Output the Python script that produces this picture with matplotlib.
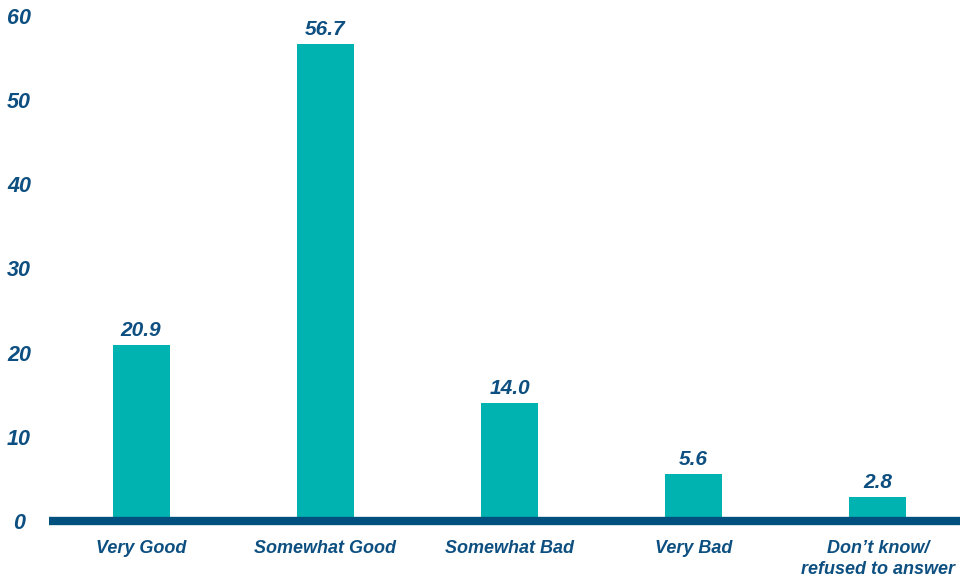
import matplotlib
matplotlib.use("Agg")
import matplotlib.pyplot as plt

categories = ["Very Good", "Somewhat Good", "Somewhat Bad", "Very Bad", "Don\u2019t know/\nrefused to answer"]
values = [20.9, 56.7, 14.0, 5.6, 2.8]
yticks = [0, 10, 20, 30, 40, 50, 60]

text_color = "#0D4F80"
bar_color = "#00B2B0"
base_color = "#00507F"

plt.rcParams['font.family'] = ['Liberation Sans', 'DejaVu Sans']

fig = plt.figure(figsize=(9.6, 5.8), dpi=100)
ax = fig.add_axes([49/960, 1 - 521/580, 921/960, (521-16)/580])

x = list(range(len(categories)))
ax.bar(x, values, width=0.31, color=bar_color, zorder=2)
for xi, v in zip(x, values):
    ax.text(xi, v + 0.6, f"{v:.1f}", ha="center", va="bottom", fontsize=15,
            fontweight="bold", fontstyle="italic", color=text_color)

ax.set_xlim(-0.5, 4.5)
ax.set_ylim(0, 60)
ax.set_yticks(yticks)
ax.set_yticklabels([str(t) for t in yticks], fontsize=15.5, fontweight="bold",
                   fontstyle="italic", color=text_color, ha="center")
ax.tick_params(axis="y", length=0, pad=21.6)
ax.set_xticks(x)
ax.set_xticklabels(categories, fontsize=13, fontweight="bold", fontstyle="italic",
                   color=text_color, linespacing=1.35, va="top")
ax.tick_params(axis="x", length=0, pad=13.5)

for s in ["top", "right", "left"]:
    ax.spines[s].set_visible(False)
ax.spines["bottom"].set_color(base_color)
ax.spines["bottom"].set_linewidth(6)
ax.spines["bottom"].set_capstyle("butt")
ax.spines["bottom"].set_zorder(3)

fig.savefig("out.png", dpi=100)
